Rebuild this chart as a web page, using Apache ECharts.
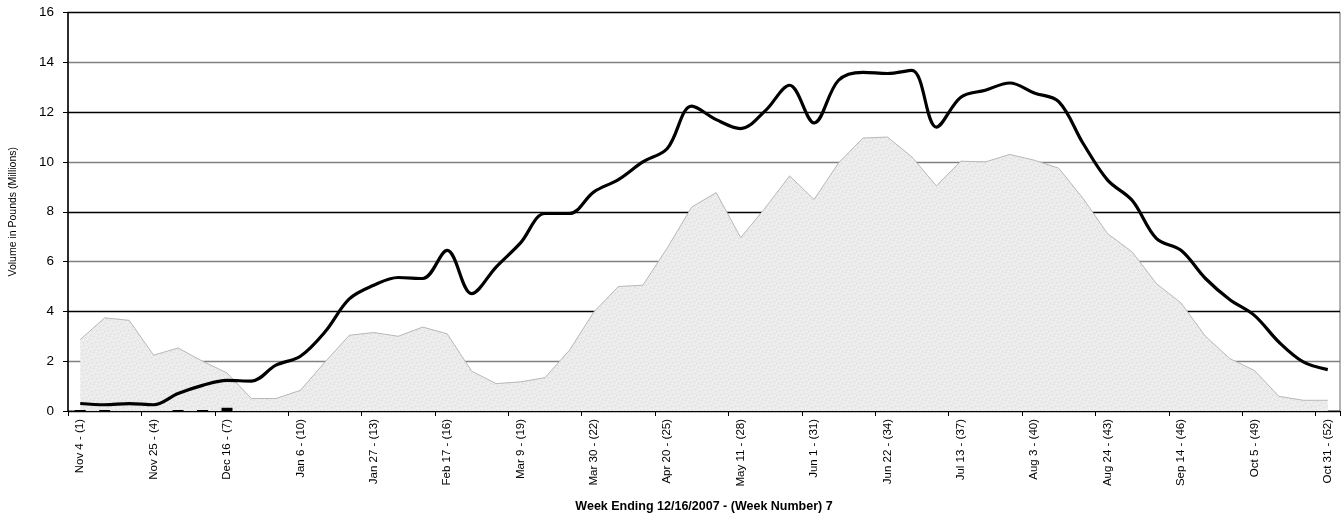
<!DOCTYPE html>
<html>
<head>
<meta charset="utf-8">
<script src="https://cdn.jsdelivr.net/npm/echarts@6/dist/echarts.min.js"></script>
<style>html,body{margin:0;padding:0;background:#fff;}#chart{width:1344px;height:516px;}</style>
</head>
<body>
<div id="chart"></div>
<script>
const weeks = [
  "Nov 4 - (1)","Nov 11 - (2)","Nov 18 - (3)","Nov 25 - (4)","Dec 2 - (5)","Dec 9 - (6)","Dec 16 - (7)",
  "Dec 23 - (8)","Dec 30 - (9)","Jan 6 - (10)","Jan 13 - (11)","Jan 20 - (12)","Jan 27 - (13)","Feb 3 - (14)",
  "Feb 10 - (15)","Feb 17 - (16)","Feb 24 - (17)","Mar 2 - (18)","Mar 9 - (19)","Mar 16 - (20)","Mar 23 - (21)",
  "Mar 30 - (22)","Apr 6 - (23)","Apr 13 - (24)","Apr 20 - (25)","Apr 27 - (26)","May 4 - (27)","May 11 - (28)",
  "May 18 - (29)","May 25 - (30)","Jun 1 - (31)","Jun 8 - (32)","Jun 15 - (33)","Jun 22 - (34)","Jun 29 - (35)",
  "Jul 6 - (36)","Jul 13 - (37)","Jul 20 - (38)","Jul 27 - (39)","Aug 3 - (40)","Aug 10 - (41)","Aug 17 - (42)",
  "Aug 24 - (43)","Aug 31 - (44)","Sep 7 - (45)","Sep 14 - (46)","Sep 21 - (47)","Sep 28 - (48)","Oct 5 - (49)",
  "Oct 12 - (50)","Oct 19 - (51)","Oct 31 - (52)"
];
// gray area series (weekly volume)
const areaValues = [
  2.87, 3.74, 3.64, 2.24, 2.53, 2.00, 1.53, 0.50, 0.50, 0.83,
  1.96, 3.04, 3.15, 3.00, 3.37, 3.10, 1.60, 1.10, 1.17, 1.34,
  2.44, 3.98, 5.00, 5.05, 6.55, 8.19, 8.77, 6.96, 8.15, 9.44,
  8.49, 9.96, 10.96, 11.00, 10.20, 9.04, 10.03, 10.00, 10.30, 10.07,
  9.75, 8.53, 7.12, 6.39, 5.11, 4.34, 3.00, 2.10, 1.63, 0.59,
  0.43, 0.43
];
// black smooth line series
const lineValues = [
  0.30, 0.25, 0.30, 0.25, 0.70, 1.03, 1.23, 1.20, 1.84, 2.20,
  3.17, 4.50, 5.05, 5.36, 5.32, 6.45, 4.71, 5.78, 6.75, 7.93,
  7.93, 8.80, 9.29, 10.00, 10.54, 12.24, 11.70, 11.34, 12.05, 13.08,
  11.57, 13.28, 13.60, 13.55, 13.68, 11.40, 12.60, 12.88, 13.17, 12.77,
  12.42, 10.74, 9.27, 8.46, 6.92, 6.45, 5.32, 4.47, 3.84, 2.77,
  1.97, 1.66
];
// current year weekly bars (weeks 1-7)
const currentValues = [0.04, 0.04, 0, 0, 0.04, 0.04, 0.13];
const yTicks = { min: 0, max: 16, interval: 2 };

// subtle grain texture for the area fill (deterministic pattern)
function makeTexture() {
  const c = document.createElement('canvas');
  c.width = 16; c.height = 16;
  const g = c.getContext('2d');
  g.fillStyle = '#ebebeb';
  g.fillRect(0, 0, 16, 16);
  const pts = [[1,2],[5,1],[9,3],[13,0],[3,6],[7,5],[11,7],[15,6],[0,10],[4,9],[8,11],[12,10],[2,14],[6,13],[10,15],[14,13]];
  g.fillStyle = '#d9d9d9';
  pts.forEach(p => g.fillRect(p[0], p[1], 1, 1));
  g.fillStyle = '#f6f6f6';
  pts.forEach(p => g.fillRect((p[0] + 2) % 16, (p[1] + 2) % 16, 1, 1));
  return c;
}

const chart = echarts.init(document.getElementById('chart'), null, { renderer: 'canvas' });
chart.setOption({
  animation: false,
  backgroundColor: '#ffffff',
  textStyle: { fontFamily: 'Liberation Sans, Arial, sans-serif' },
  grid: { left: 68, right: 4, top: 12.5, bottom: 105, containLabel: false, outerBoundsMode: 'none',
          show: true, borderColor: '#666', borderWidth: 1, backgroundColor: 'transparent' },
  xAxis: {
    type: 'category',
    data: weeks,
    boundaryGap: true,
    name: 'Week Ending 12/16/2007 - (Week Number) 7',
    nameLocation: 'middle',
    nameGap: 89,
    nameTextStyle: { fontSize: 12.5, fontWeight: 'bold', color: '#000', fontFamily: 'Liberation Sans, Arial, sans-serif' },
    axisLine: { lineStyle: { color: '#000', width: 1 } },
    axisTick: { show: true, interval: 2, length: 5, lineStyle: { color: '#000' } },
    axisLabel: { interval: 2, rotate: 90, fontSize: 11.5, color: '#000', margin: 8, hideOverlap: false },
    splitLine: { show: false }
  },
  yAxis: {
    type: 'value',
    min: yTicks.min, max: yTicks.max, interval: yTicks.interval,
    name: 'Volume in Pounds (Millions)',
    nameLocation: 'middle',
    nameGap: 49,
    nameRotate: 90,
    nameTextStyle: { fontSize: 10.5, color: '#000', fontFamily: 'Liberation Sans, Arial, sans-serif' },
    axisLine: { show: true, lineStyle: { color: '#000', width: 1.5 } },
    axisTick: { show: true, length: 5, lineStyle: { color: '#000' } },
    axisLabel: { fontSize: 13.5, color: '#000', margin: 14 },
    splitLine: { show: true, lineStyle: { color: ['#000000', '#808080'], width: 1.3 } }
  },
  series: [
    {
      name: 'Area', type: 'line', data: areaValues, symbol: 'none', smooth: false,
      lineStyle: { color: '#b8b8b8', width: 1 },
      areaStyle: { color: { image: makeTexture(), repeat: 'repeat' }, opacity: 1 },
      z: 2
    },
    {
      name: 'Current', type: 'bar', data: currentValues, barWidth: 11,
      itemStyle: { color: '#000' }, z: 3
    },
    {
      name: 'Line', type: 'line', data: lineValues, symbol: 'none', smooth: 0.35,
      lineStyle: { color: '#000', width: 3.2 },
      z: 4
    }
  ]
});
</script>
</body>
</html>
